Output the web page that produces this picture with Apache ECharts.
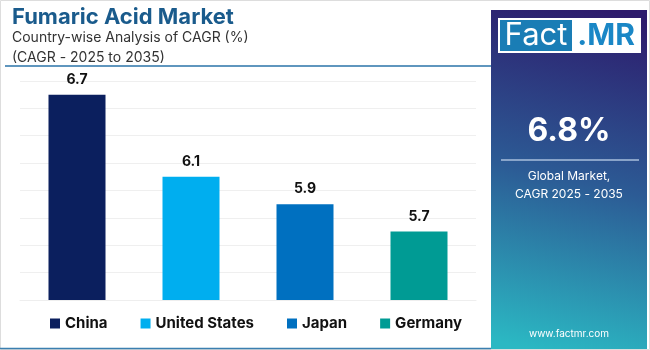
<!DOCTYPE html>
<html>
<head>
<meta charset="utf-8">
<script src="https://cdn.jsdelivr.net/npm/echarts@6/dist/echarts.min.js"></script>
<style>
  html, body { margin: 0; padding: 0; background: #fff; }
  #chart { width: 650px; height: 350px; }
</style>
</head>
<body>
<div id="chart"></div>
<script>
// chart data
const countries = ['China', 'United States', 'Japan', 'Germany'];
const cagr = [6.7, 6.1, 5.9, 5.7];
const palette = ['#0b1f5e', '#00aeef', '#0070c0', '#009b94'];

const FONT = 'Inter, "Noto Sans", sans-serif';

const chart = echarts.init(document.getElementById('chart'));

// one series per country so the legend gets one entry each
const series = countries.map(function (name, i) {
  return {
    name: name,
    type: 'bar',
    barWidth: 57,
    barGap: '-100%',
    itemStyle: { color: palette[i] },
    label: {
      show: true,
      position: 'top',
      distance: 8,
      color: '#111',
      fontFamily: FONT,
      fontWeight: 'bold',
      fontSize: 14
    },
    data: countries.map(function (c, j) { return j === i ? cagr[i] : null; })
  };
});

chart.setOption({
  animation: false,
  title: [
    {
      text: 'Fumaric Acid Market',
      left: 7,
      top: 1,
      textStyle: { color: '#1a5b8c', fontFamily: FONT, fontWeight: 'bold', fontSize: 22 }
    },
    {
      text: 'Country-wise Analysis of CAGR (%)\n(CAGR - 2025 to 2035)',
      left: 7,
      top: 23,
      textStyle: { color: '#333', fontFamily: FONT, fontWeight: 'normal', fontSize: 14, lineHeight: 20 }
    }
  ],
  legend: {
    left: 45,
    top: 311,
    itemWidth: 10,
    itemHeight: 10,
    itemGap: 33,
    icon: 'rect',
    textStyle: { color: '#111', fontFamily: FONT, fontWeight: 'bold', fontSize: 15 },
    data: countries
  },
  grid: { left: 20, right: 174, top: 81, bottom: 50 },
  xAxis: {
    type: 'category',
    data: countries,
    axisLine: { lineStyle: { color: '#eeeeee' } },
    axisTick: { show: false },
    axisLabel: { show: false }
  },
  yAxis: {
    type: 'value',
    min: 5.2,
    max: 6.8,
    interval: 0.2,
    axisLine: { show: false },
    axisTick: { show: false },
    axisLabel: { show: false },
    splitLine: { lineStyle: { color: '#efefef' } }
  },
  graphic: [
    // outer border
    { type: 'rect', shape: { x: 0.5, y: 0.5, width: 649, height: 349 }, style: { fill: 'none', stroke: '#dddddd' }, z: -1 },
    // line under heading
    { type: 'line', shape: { x1: 5, y1: 66, x2: 491, y2: 66 }, style: { stroke: '#2a73a8', lineWidth: 1.5 } },
    // bottom line
    { type: 'line', shape: { x1: 0, y1: 348.5, x2: 491, y2: 348.5 }, style: { stroke: '#3b7fb0', lineWidth: 1.5 } },
    // side panel
    {
      type: 'rect',
      shape: { x: 491, y: 10, width: 156, height: 339 },
      style: {
        fill: new echarts.graphic.LinearGradient(0.75, 0, 0.25, 1, [
          { offset: 0, color: '#2d1b6c' },
          { offset: 0.5, color: '#2c5b95' },
          { offset: 1, color: '#2bb8c3' }
        ])
      }
    },
    // logo
    { type: 'rect', shape: { x: 498, y: 18, width: 143, height: 35 }, style: { fill: '#ffffff' } },
    { type: 'rect', shape: { x: 500, y: 20, width: 72, height: 31 }, style: { fill: '#1a7db5' } },
    {
      type: 'text', x: 536, y: 36,
      style: { text: 'Fact', fill: '#ffffff', font: '31px ' + FONT, align: 'center', verticalAlign: 'middle' }
    },
    {
      type: 'text', x: 606, y: 36,
      style: { text: '.MR', fill: '#1a87c6', font: 'bold 30px ' + FONT, align: 'center', verticalAlign: 'middle' }
    },
    // global value
    {
      type: 'text', x: 569, y: 131,
      style: { text: '6.8%', fill: '#ffffff', font: 'bold 32px ' + FONT, align: 'center', verticalAlign: 'middle' }
    },
    { type: 'line', shape: { x1: 501, y1: 160, x2: 639, y2: 160 }, style: { stroke: '#a9bfdc', lineWidth: 1.5 } },
    {
      type: 'text', x: 569, y: 185,
      style: { text: 'Global Market,\nCAGR 2025 - 2035', fill: '#ffffff', font: '12px ' + FONT, lineHeight: 18, align: 'center', verticalAlign: 'middle' }
    },
    {
      type: 'text', x: 569, y: 334,
      style: { text: 'www.factmr.com', fill: '#ffffff', font: '10px ' + FONT, align: 'center', verticalAlign: 'middle' }
    }
  ],
  series: series
});
</script>
</body>
</html>
